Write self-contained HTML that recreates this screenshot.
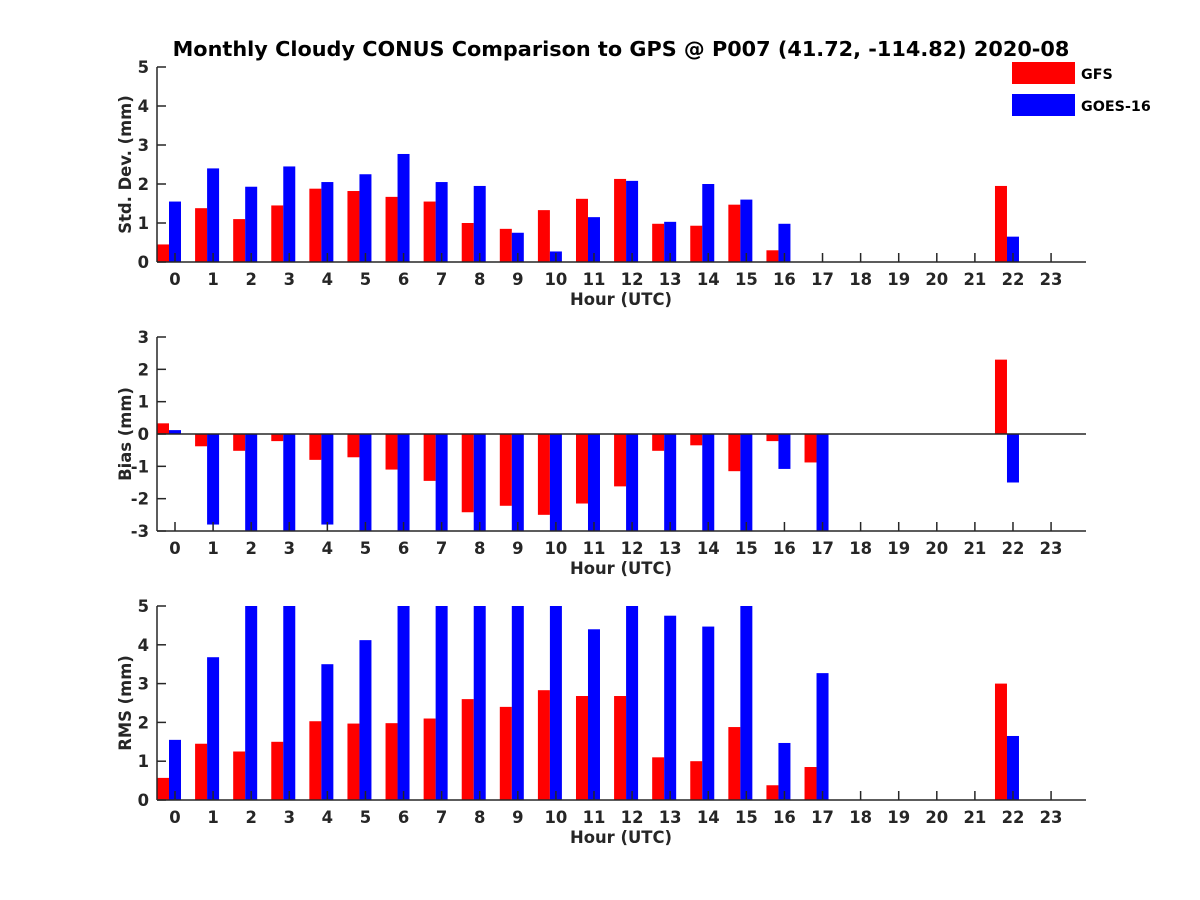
<!DOCTYPE html>
<html><head><meta charset="utf-8"><style>
body{margin:0;background:#fff}
svg{display:block;font-family:"DejaVu Sans","Liberation Sans",sans-serif;font-weight:bold}
</style></head><body>
<svg id="c" width="1200" height="900" viewBox="0 0 1200 900"></svg>
<script>
const hours=[0,1,2,3,4,5,6,7,8,9,10,11,12,13,14,15,16,17,18,19,20,21,22,23];
const stdGFS=[0.45,1.38,1.1,1.45,1.88,1.82,1.67,1.55,1.0,0.85,1.33,1.62,2.13,0.98,0.93,1.47,0.3,0,0,0,0,0,1.95,0];
const stdGOES=[1.55,2.4,1.93,2.45,2.05,2.25,2.77,2.05,1.95,0.75,0.27,1.15,2.08,1.03,2.0,1.6,0.98,0,0,0,0,0,0.65,0];
const biasGFS=[0.33,-0.38,-0.52,-0.22,-0.8,-0.72,-1.1,-1.45,-2.42,-2.22,-2.5,-2.15,-1.62,-0.52,-0.35,-1.15,-0.22,-0.88,0,0,0,0,2.3,0];
const biasGOES=[0.12,-2.8,-3.5,-3.5,-2.8,-3.5,-3.5,-3.5,-3.5,-3.5,-3.5,-3.5,-3.5,-3.5,-3.5,-3.5,-1.08,-3.5,0,0,0,0,-1.5,0];
const rmsGFS=[0.57,1.45,1.25,1.5,2.03,1.97,1.98,2.1,2.6,2.4,2.83,2.68,2.68,1.1,1.0,1.88,0.38,0.85,0,0,0,0,3.0,0];
const rmsGOES=[1.55,3.68,5.5,5.5,3.5,4.12,5.5,5.5,5.5,5.5,5.5,4.4,5.5,4.75,4.47,5.5,1.47,3.27,0,0,0,0,1.65,0];
const stdTicks=[0,1,2,3,4,5];
const biasTicks=[-3,-2,-1,0,1,2,3];
const rmsTicks=[0,1,2,3,4,5];

const svg=document.getElementById('c');
const NS='http://www.w3.org/2000/svg';
function mk(tag,attrs,parent){const e=document.createElementNS(NS,tag);for(const k in attrs)e.setAttribute(k,attrs[k]);(parent||svg).appendChild(e);return e;}
const X0=157,X1=1086;
function xs(h){return 175+h*38.09;}
const C='#262626';
const FS=16.4;

function panel(name,top,bottom,ymin,ymax,ticks,label,gfs,goes,zeroLine){
  const g=mk('g',{});
  
  
  const ys=v=>bottom-(v-ymin)/(ymax-ymin)*(bottom-top);
  const clip=mk('clipPath',{id:'cl'+name},g);
  mk('rect',{x:X0,y:top,width:X1-X0,height:bottom-top},clip);
  const bars=mk('g',{'clip-path':'url(#cl'+name+')'},g);
  const base=ymin<0?0:ymin;
  hours.forEach((h,i)=>{
    [[gfs[i],-12,'#ff0000','gfs'],[goes[i],0,'#0000ff','goes']].forEach(([v,off,col,s])=>{
      if(v===0)return;
      const y1=ys(v),y0=ys(base);
      const r=mk('rect',{x:xs(h)+off-6,y:Math.min(y0,y1),width:12,height:Math.abs(y1-y0),fill:col},bars);
      
      
    });
  });
  if(zeroLine)mk('line',{x1:X0,x2:X1,y1:ys(0),y2:ys(0),stroke:C,'stroke-width':1.5},g);
  mk('line',{x1:X0,x2:X0,y1:top,y2:bottom,stroke:C,'stroke-width':1.5},g);
  mk('line',{x1:X0,x2:X1,y1:bottom,y2:bottom,stroke:C,'stroke-width':1.5},g);
  ticks.forEach(t=>{
    const y=ys(t);
    mk('line',{x1:X0,x2:X0+9,y1:y,y2:y,stroke:C,'stroke-width':1.5},g);
    const tx=mk('text',{x:X0-8,y:y+6,'text-anchor':'end','font-size':FS,fill:C},g);
    tx.textContent=t;
    
    
  });
  hours.forEach(h=>{
    const x=xs(h);
    mk('line',{x1:x,x2:x,y1:bottom,y2:bottom-9,stroke:C,'stroke-width':1.5},g);
    const tx=mk('text',{x:x,y:bottom+23,'text-anchor':'middle','font-size':FS,fill:C},g);
    tx.textContent=h;
    
    
  });
  const xl=mk('text',{x:621,y:bottom+43,'text-anchor':'middle','font-size':FS,fill:C},g);
  xl.textContent='Hour (UTC)';
  
  
  const cy=(top+bottom)/2;
  const yl=mk('text',{x:131,y:cy,'text-anchor':'middle','font-size':FS,fill:C,transform:'rotate(-90 131 '+cy+')'},g);
  yl.textContent=label;
  
  
}
panel('std',67,262,0,5,stdTicks,'Std. Dev. (mm)',stdGFS,stdGOES,false);
panel('bias',337,531,-3,3,biasTicks,'Bias (mm)',biasGFS,biasGOES,true);
panel('rms',606,800,0,5,rmsTicks,'RMS (mm)',rmsGFS,rmsGOES,false);

const title=mk('text',{x:621,y:56,'text-anchor':'middle','font-size':20.8,fill:'#000'});
title.textContent='Monthly Cloudy CONUS Comparison to GPS @ P007 (41.72, -114.82) 2020-08';



const lg=mk('g',{});


[['GFS','#ff0000',62],['GOES-16','#0000ff',94]].forEach(([n,col,y])=>{
  const e=mk('g',{},lg);
  
  
  mk('rect',{x:1012,y:y,width:63,height:22,fill:col},e);
  const t=mk('text',{x:1081,y:y+17,'font-size':14.3,fill:'#000'},e);
  t.textContent=n;
});
</script>
</body></html>
